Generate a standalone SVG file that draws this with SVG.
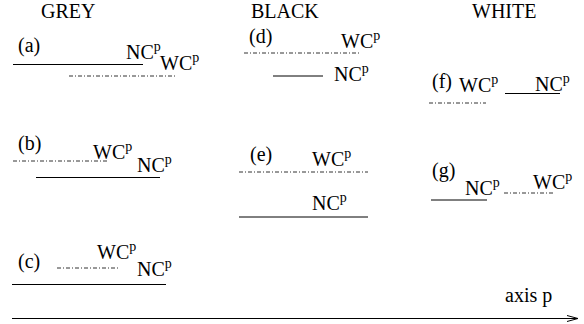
<svg xmlns="http://www.w3.org/2000/svg" width="584" height="324" viewBox="0 0 584 324">
<defs>
<style>
text{font-family:"Liberation Serif","Times New Roman",serif;font-size:20px;fill:#000}
.sup{font-size:14px}
.solid{stroke:#000;stroke-width:1;fill:none}
.dash{stroke:#333;stroke-width:1;fill:none;stroke-dasharray:4 2 1 2}
</style>
<marker id="arr" markerWidth="12" markerHeight="8" refX="11" refY="4" orient="auto" markerUnits="userSpaceOnUse">
<polyline points="0,1 11,4 0,7" fill="none" stroke="#000" stroke-width="1"/>
</marker>
</defs>
<g id="headers">
<text x="41" y="18">GREY</text>
<text x="251" y="18">BLACK</text>
<text x="472" y="18">WHITE</text>
</g>
<g id="node-a">
<text x="18" y="52">(a)</text>
<text x="126" y="59">NC<tspan class="sup" dy="-8">p</tspan></text>
<text x="160" y="70">WC<tspan class="sup" dy="-8">p</tspan></text>
</g>
<g id="node-b">
<text x="18" y="150">(b)</text>
<text x="93" y="159">WC<tspan class="sup" dy="-8">p</tspan></text>
<text x="137" y="172">NC<tspan class="sup" dy="-8">p</tspan></text>
</g>
<g id="node-c">
<text x="18" y="268">(c)</text>
<text x="97" y="259">WC<tspan class="sup" dy="-8">p</tspan></text>
<text x="137" y="276">NC<tspan class="sup" dy="-8">p</tspan></text>
</g>
<g id="node-d">
<text x="249" y="43">(d)</text>
<text x="341" y="48">WC<tspan class="sup" dy="-8">p</tspan></text>
<text x="334" y="81">NC<tspan class="sup" dy="-8">p</tspan></text>
</g>
<g id="node-e">
<text x="250" y="161">(e)</text>
<text x="312" y="166">WC<tspan class="sup" dy="-8">p</tspan></text>
<text x="312" y="210">NC<tspan class="sup" dy="-8">p</tspan></text>
</g>
<g id="node-f">
<text x="432" y="88">(f)</text>
<text x="459" y="92">WC<tspan class="sup" dy="-8">p</tspan></text>
<text x="535" y="91">NC<tspan class="sup" dy="-8">p</tspan></text>
</g>
<g id="node-g">
<text x="432" y="177">(g)</text>
<text x="465" y="195">NC<tspan class="sup" dy="-8">p</tspan></text>
<text x="533" y="189">WC<tspan class="sup" dy="-8">p</tspan></text>
</g>
<g id="axis-label">
<text x="505" y="302">axis p</text>
</g>
<g id="connectors">
<line class="solid" x1="13" y1="64.5" x2="143" y2="64.5"/>
<line class="dash" x1="69" y1="76" x2="176" y2="76"/>
<line class="dash" x1="13" y1="161" x2="109" y2="161"/>
<line class="solid" x1="36" y1="177.5" x2="160" y2="177.5"/>
<line class="dash" x1="57" y1="268" x2="120" y2="268"/>
<line class="solid" x1="12" y1="284.5" x2="166" y2="284.5"/>
<line class="dash" x1="244" y1="53" x2="360" y2="53"/>
<line class="solid" x1="273" y1="76" x2="323" y2="76"/>
<line class="dash" x1="239" y1="172" x2="368" y2="172"/>
<line class="solid" x1="239" y1="217" x2="368" y2="217"/>
<line class="solid" x1="505" y1="93.5" x2="560" y2="93.5"/>
<line class="dash" x1="429" y1="103" x2="486" y2="103"/>
<line class="solid" x1="431" y1="200" x2="487" y2="200"/>
<line class="dash" x1="504" y1="193" x2="553" y2="193"/>
<line class="solid" x1="12" y1="318.5" x2="578" y2="318.5" marker-end="url(#arr)"/>
</g>
</svg>
